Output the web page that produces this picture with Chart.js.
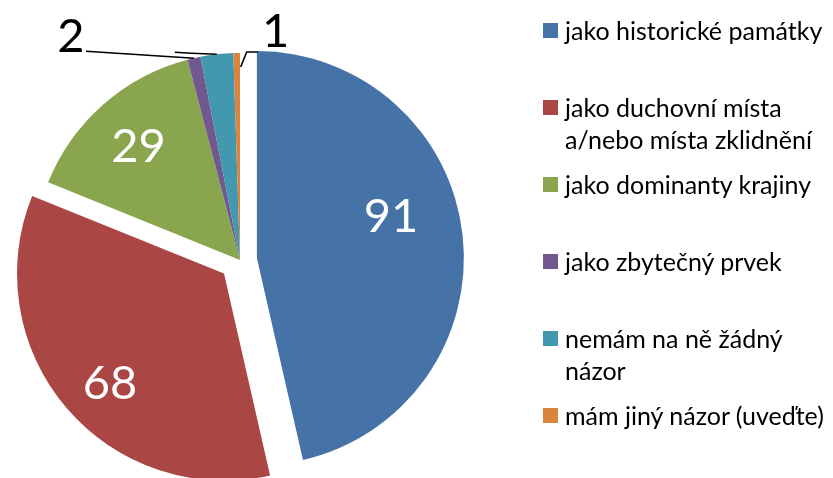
<!DOCTYPE html>
<html>
<head>
<meta charset="utf-8">
<script src="https://cdn.jsdelivr.net/npm/chart.js@4/dist/chart.umd.min.js"></script>
<style>
  html, body { margin: 0; padding: 0; background: #ffffff; }
  #wrap { position: relative; width: 833px; height: 478px; overflow: hidden; background: #fff; }
  #c { position: absolute; left: 0; top: 0; }
  .lg { position: absolute; left: 543px; font-family: Lato, "Open Sans", sans-serif; font-size: 25px; line-height: 32px; color: #000; white-space: nowrap; }
  .lg .sw { position: absolute; left: 0; top: 9px; width: 15px; height: 15px; }
  .lg .tx { position: absolute; left: 22px; top: 0; }
</style>
</head>
<body>
<div id="wrap">
  <canvas id="c" width="833" height="478"></canvas>
</div>
<script>
// ---- data ----
const categories = [
  'jako historické památky',
  ['jako duchovní místa', 'a/nebo místa zklidnění'],
  'jako dominanty krajiny',
  'jako zbytečný prvek',
  ['nemám na ně žádný', 'názor'],
  'mám jiný názor (uveďte)'
];
const values = [91, 68, 29, 2, 5, 1];
const colors = ['#4572A7', '#AA4643', '#89A54E', '#71588F', '#4198AF', '#DB843D'];

// ---- styling: slice explosion (px) and label placement ----
const explode = [17, 21, 0, 0, 0, 0];
const labelStyle = [
  { inside: true, ang: 0.434, rad: 0.679 },
  { inside: true, ang: 0.473, rad: 0.763 },
  { inside: true, ang: 0.495, rad: 0.739 },
  { leader: [[0, 0], [-108, -7]], text: [-123, -23] },
  { leader: [[0, 0], [-25, -1], [-42, -2]], text: null },
  { leader: [[4, 14], [10, -1], [21, -1]], text: [39, -23] }
];

function drawNum(ctx, str, x, y, color) {
  ctx.save();
  ctx.font = '47px Lato, "Open Sans", sans-serif';
  ctx.fillStyle = color;
  ctx.textAlign = 'center';
  ctx.textBaseline = 'alphabetic';
  const m = ctx.measureText(str);
  const h = m.actualBoundingBoxAscent - m.actualBoundingBoxDescent;
  ctx.fillText(str, x, y + h / 2);
  ctx.restore();
}

const explodePlugin = {
  id: 'explodeSlices',
  afterDatasetsUpdate(chart) {
    const meta = chart.getDatasetMeta(0);
    meta.data.forEach((arc, i) => {
      const e = explode[i] || 0;
      if (!e) return;
      const half = (arc.startAngle + arc.endAngle) / 2;
      arc.x += Math.cos(half) * e;
      arc.y += Math.sin(half) * e;
    });
  }
};

const pieLabels = {
  id: 'pieLabels',
  afterDatasetsDraw(chart) {
    const ctx = chart.ctx;
    const meta = chart.getDatasetMeta(0);
    meta.data.forEach((arc, i) => {
      const p = arc.getProps(['x', 'y', 'startAngle', 'endAngle', 'outerRadius'], true);
      const half = (p.startAngle + p.endAngle) / 2;
      const cx = p.x, cy = p.y;
      const st = labelStyle[i];
      const txt = String(chart.data.datasets[0].data[i]);
      if (st.inside) {
        const a = p.startAngle + (p.endAngle - p.startAngle) * st.ang;
        const r = p.outerRadius * st.rad;
        drawNum(ctx, txt, cx + Math.cos(a) * r, cy + Math.sin(a) * r, '#ffffff');
      } else {
        const ax = cx + Math.cos(half) * p.outerRadius;
        const ay = cy + Math.sin(half) * p.outerRadius;
        ctx.save();
        ctx.strokeStyle = '#000';
        ctx.lineWidth = 1.6;
        ctx.beginPath();
        st.leader.forEach((pt, k) => {
          if (k === 0) ctx.moveTo(ax + pt[0], ay + pt[1]);
          else ctx.lineTo(ax + pt[0], ay + pt[1]);
        });
        ctx.stroke();
        ctx.restore();
        if (st.text) drawNum(ctx, txt, ax + st.text[0], ay + st.text[1], '#000000');
      }
    });
  }
};

new Chart(document.getElementById('c'), {
  type: 'pie',
  data: {
    labels: categories,
    datasets: [{
      data: values,
      backgroundColor: colors,
      borderWidth: 0,
      hoverOffset: 0
    }]
  },
  options: {
    responsive: false,
    animation: false,
    devicePixelRatio: 1,
    radius: 207,
    layout: { padding: { left: 0, right: 353, top: 42, bottom: 0 } },
    plugins: { legend: { display: false }, tooltip: { enabled: false } },
    events: []
  },
  plugins: [explodePlugin, pieLabels]
});

// ---- HTML legend ----
const wrap = document.getElementById('wrap');
categories.forEach((lab, i) => {
  const item = document.createElement('div');
  item.className = 'lg';
  item.style.top = (13.5 + i * 77) + 'px';
  const sw = document.createElement('div');
  sw.className = 'sw';
  sw.style.background = colors[i];
  const tx = document.createElement('div');
  tx.className = 'tx';
  const lines = Array.isArray(lab) ? lab : [lab];
  lines.forEach((ln) => {
    const d = document.createElement('div');
    d.textContent = ln;
    tx.appendChild(d);
  });
  item.appendChild(sw);
  item.appendChild(tx);
  wrap.appendChild(item);
});
</script>
</body>
</html>
